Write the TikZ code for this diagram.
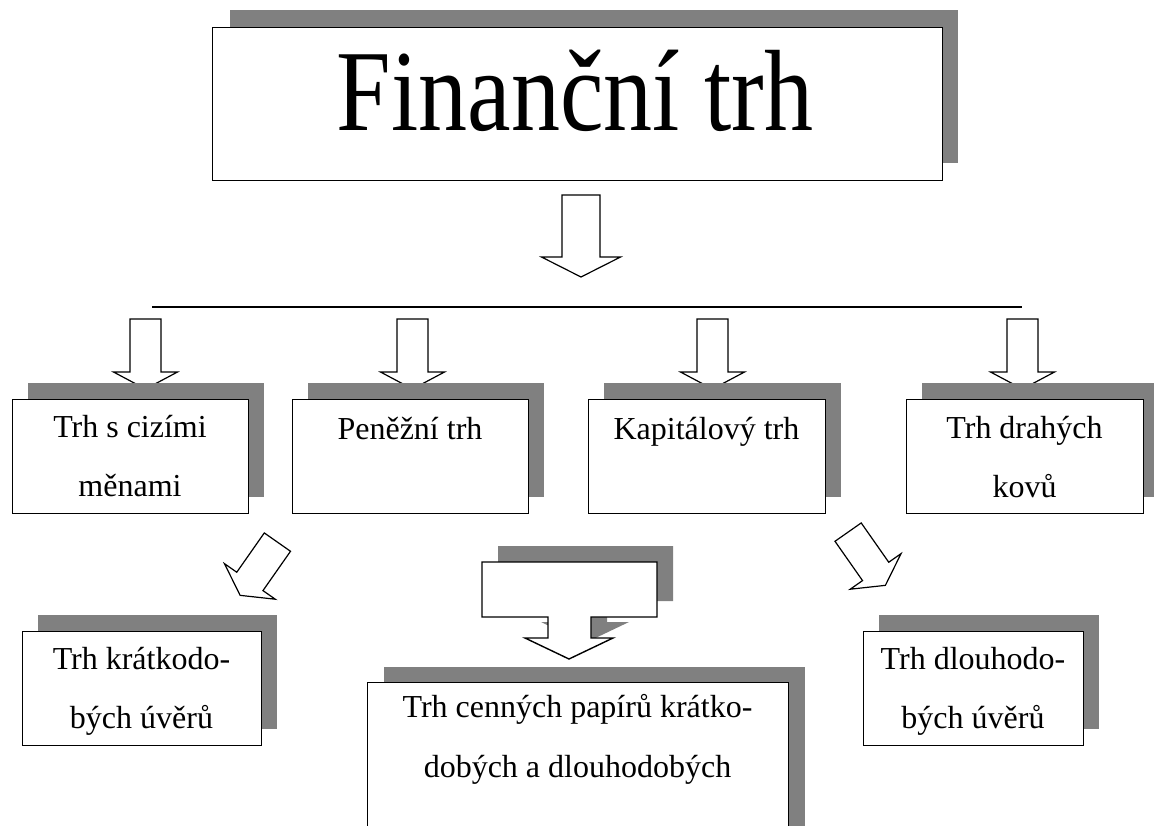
\documentclass[tikz,border=0pt]{standalone}
\usepackage{fontspec}
\setmainfont{Liberation Serif}
\definecolor{shadowgray}{HTML}{808080}
\begin{document}
\begin{tikzpicture}[x=1pt,y=-1pt,
  shadowfill/.style={fill=shadowgray,draw=none},
  boxw/.style={fill=white,draw=black,line width=1.4pt,inner sep=0pt,anchor=north west},
  arrowshape/.style={fill=white,draw=black,line width=1.2pt,line join=miter},
  txt/.style={font=\fontsize{32}{32}\selectfont,anchor=base,inner sep=0pt},
  titletxt/.style={font=\fontsize{98}{98}\selectfont,anchor=base,inner sep=0pt},
  dnarrow/.pic={\draw[arrowshape] (-15.5,0) -- (15.5,0) -- (15.5,53) -- (32,53) -- (0,70) -- (-32,53) -- (-15.5,53) -- cycle;},
  diagarrow/.pic={\draw[arrowshape] (-16,0) -- (16,0) -- (16,48) -- (31,48) -- (0,65) -- (-31,48) -- (-16,48) -- cycle;},
  bigdnarrow/.pic={\draw[arrowshape] (-19,0) -- (19,0) -- (19,62) -- (39.5,62) -- (0,82) -- (-39.5,62) -- (-19,62) -- cycle;}
]
\useasboundingbox (0,0) rectangle (1154,825);
\clip (0,0) rectangle (1154,825);

% title
\fill[shadowfill] (230,10) rectangle (958,163);
\node[boxw,minimum width=730pt,minimum height=153pt] (title) at (212,27) {};
\node[titletxt] (titlet) at (575,130) {\scalebox{1}[1.18]{Finanční trh}};

% big arrow
\pic (bigarrow) at (581,195) {bigdnarrow};

% horizontal line
\coordinate (hl) at (152,307);
\coordinate (hr) at (1022,307);
\draw[line width=1.2pt] (hl) -- (hr);

% small arrows
\pic (a1) at (145.5,319) {dnarrow};
\pic (a2) at (412.5,319) {dnarrow};
\pic (a3) at (712.5,319) {dnarrow};
\pic (a4) at (1022.5,319) {dnarrow};

% row 2 boxes
\fill[shadowfill] (28,383) rectangle (264,497);
\node[boxw,minimum width=236pt,minimum height=114pt] (b1) at (12,399) {};
\node[txt] (b1a) at (130,437) {Trh s cizími};
\node[txt] (b1b) at (130,496) {měnami};

\fill[shadowfill] (308,383) rectangle (544,497);
\node[boxw,minimum width=236pt,minimum height=114pt] (b2) at (292,399) {};
\node[txt] (b2a) at (410,439) {Peněžní trh};

\fill[shadowfill] (604,383) rectangle (841,497);
\node[boxw,minimum width=237pt,minimum height=114pt] (b3) at (588,399) {};
\node[txt] (b3a) at (706.5,439) {Kapitálový trh};

\fill[shadowfill] (922,383) rectangle (1159,497);
\node[boxw,minimum width=237pt,minimum height=114pt] (b4) at (906,399) {};
\node[txt] (b4a) at (1024.5,438) {Trh drahých};
\node[txt] (b4b) at (1024.5,497) {kovů};

% diagonal arrows
\pic[rotate=-35] (dl) at (277.4,542.1) {diagarrow};
\pic[rotate=35] (dr) at (848.1,532.1) {diagarrow};

% callout with arrow
\fill[shadowfill] (498,546) -- (673,546) -- (673,601) -- (607,601) -- (607,622) -- (629,622) -- (585,643) -- (541,622) -- (564,622) -- (564,601) -- (498,601) -- cycle;
\draw[arrowshape,line width=1.4pt] (482,562) -- (657,562) -- (657,617) -- (591,617) -- (591,638) -- (613,638) -- (569,659) -- (525,638) -- (548,638) -- (548,617) -- (482,617) -- cycle;

% bottom boxes
\fill[shadowfill] (38,615) rectangle (277,729);
\node[boxw,minimum width=239pt,minimum height=114pt] (c1) at (22,631) {};
\node[txt] (c1a) at (141.5,669) {Trh krátkodo-};
\node[txt] (c1b) at (141.5,728) {bých úvěrů};

\fill[shadowfill] (384,667) rectangle (805,900);
\node[boxw,minimum width=421pt,minimum height=220pt] (c2) at (367,682) {};
\node[txt] (c2a) at (577.5,717) {Trh cenných papírů krátko-};
\node[txt] (c2b) at (577.5,777) {dobých a dlouhodobých};

\fill[shadowfill] (879,615) rectangle (1099,729);
\node[boxw,minimum width=220pt,minimum height=114pt] (c3) at (863,631) {};
\node[txt] (c3a) at (973,669) {Trh dlouhodo-};
\node[txt] (c3b) at (973,728) {bých úvěrů};
\end{tikzpicture}
\end{document}
